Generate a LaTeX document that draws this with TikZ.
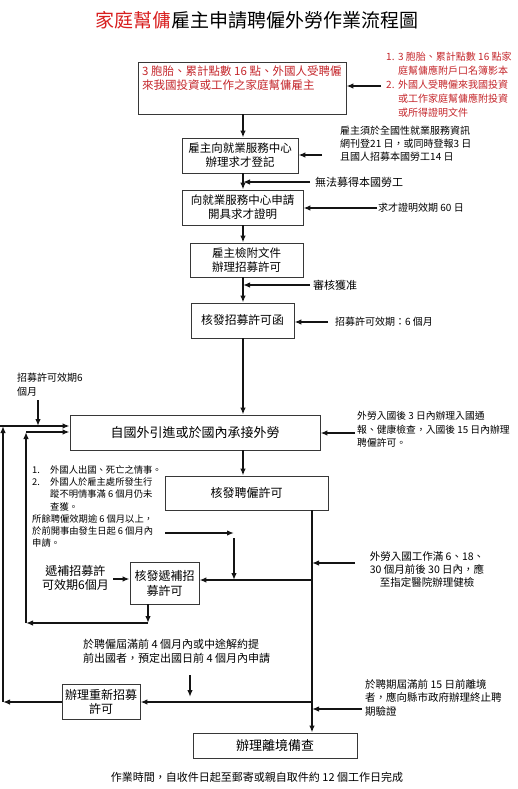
\documentclass[tikz,border=0pt]{standalone}
\usepackage{fontspec}
\setmainfont{Noto Sans CJK TC}
\usepackage{tikz}
\usetikzlibrary{positioning,arrows.meta,calc}
\definecolor{ink}  {HTML}{141414}
\definecolor{hred} {HTML}{D81E1E}
\definecolor{nred} {HTML}{C4262B}
\newcommand\fsz[2]{\fontsize{#1}{#2}\selectfont}
\tikzset{
  >={Latex[length=7pt,width=5.5pt]},
  % --- nodes
  box/.style  = {draw=ink!85, line width=0.9pt, align=center, inner sep=2pt,
                 font=\fsz{11.5}{14}},
  note/.style = {anchor=north west, align=left, inner sep=0pt, font=\fsz{10}{14}},
  lbl/.style  = {anchor=west, inner sep=0pt, font=\fsz{10}{12}},
  % --- edges
  e/.style    = {->, line width=1.4pt, draw=ink},
}
\newcommand\itm[2][12pt]{\makebox[#1][l]{#2}}

\begin{document}
\begin{tikzpicture}[x=1pt,y=-1pt]
  \useasboundingbox (0,0) rectangle (518,789);
  % title and footer
  \node[font=\fsz{19}{22}] (title) at (257,20) {{\color{hred}家庭幫傭}雇主申請聘僱外勞作業流程圖};
  \node[font=\fsz{11}{13}] (foot) at (257,777) {作業時間，自收件日起至郵寄或親自取件約 12 個工作日完成};

  % --- main column
  \node[box, minimum width=208, minimum height=52] (emp) at (242,88) {};
  \node[note, text=nred, font=\fsz{11.5}{14}] (empt) at (142,66)
    {3 胞胎、累計點數 16 點、外國人受聘僱\\來我國投資或工作之家庭幫傭雇主};
  \node[box, minimum width=116, minimum height=35] (reg)  at (240,155.5) {雇主向就業服務中心\\辦理求才登記};
  \node[box, minimum width=121, minimum height=35] (cert) at (242.5,207.5) {向就業服務中心申請\\開具求才證明};
  \node[box, minimum width=113, minimum height=34] (apply) at (246.5,260) {雇主檢附文件\\辦理招募許可};
  \node[box, minimum width=103, minimum height=35, font=\fsz{11.8}{14}] (permit) at (242.5,320.5) {核發招募許可函};
  \node[box, minimum width=250, minimum height=35, font=\fsz{13}{15}] (bring) at (195,432.5) {自國外引進或於國內承接外勞};
  \node[box, minimum width=163, minimum height=34, font=\fsz{12}{14}] (hire) at (246.5,493) {核發聘僱許可};
  \node[box, minimum width=69, minimum height=42, font=\fsz{12}{15}] (subst) at (164.5,583) {核發遞補招\\募許可};
  \node[box, minimum width=78, minimum height=35, font=\fsz{12}{14}] (renew) at (101,702) {辦理重新招募\\許可};
  \node[box, minimum width=164, minimum height=25, font=\fsz{13}{15}] (leave) at (275,745.5) {辦理離境備查};

  % --- side notes
  \node[note, text=nred] (docs) at (386,52)
    {\itm{1.}3 胞胎、累計點數 16 點家\\\itm{}庭幫傭應附戶口名簿影本\\\itm{2.}外國人受聘僱來我國投資\\\itm{}或工作家庭幫傭應附投資\\\itm{}或所得證明文件};
  \node[note, font=\fsz{10}{13}] (ad) at (340,125.5)
    {雇主須於全國性就業服務資訊\\網刊登21 日，或同時登報3 日\\且國人招募本國勞工14 日};
  \node[lbl, font=\fsz{11}{13}] (none) at (315,182) {無法募得本國勞工};
  \node[lbl] (valid1) at (378,208) {求才證明效期 60 日};
  \node[lbl, font=\fsz{11}{13}] (ok) at (313,285) {審核獲准};
  \node[lbl] (valid2) at (335,322) {招募許可效期：6 個月};
  \node[note, font=\fsz{9.8}{13.5}] (entry) at (357,411.5)
    {外勞入國後 3 日內辦理入國通\\報、健康檢查，入國後 15 日內辦理\\聘僱許可。};
  \node[note] (valid3) at (17,372.5) {招募許可效期6\\個月};
  \node[note, font=\fsz{9.3}{12.2}] (cases) at (32,465.5)
    {\itm[18pt]{1.}外國人出國、死亡之情事。\\\itm[18pt]{2.}外國人於雇主處所發生行\\\itm[18pt]{}蹤不明情事滿 6 個月仍未\\\itm[18pt]{}查獲。\\所餘聘僱效期逾 6 個月以上，\\於前開事由發生日起 6 個月內\\申請。};
  \node[anchor=east, align=center, inner sep=0pt, font=\fsz{12}{14}] (valid4) at (109,578) {遞補招募許\\可效期6個月};
  \node[anchor=north, align=center, inner sep=0pt, font=\fsz{10.5}{13}] (check) at (427,551.5)
    {外勞入國工作滿 6、18、\\30 個月前後 30 日內，應\\至指定醫院辦理健檢};
  \node[note, font=\fsz{11}{14}] (early) at (83,639)
    {於聘僱屆滿前 4 個月內或中途解約提\\前出國者，預定出國日前 4 個月內申請};
  \node[note, font=\fsz{10.5}{13.5}] (exit) at (365,679)
    {於聘期屆滿前 15 日前離境\\者，應向縣市政府辦理終止聘\\期驗證};

  % --- free ends and junctions
  \coordinate (cx) at (243,0);
  \coordinate (vt) at (312,510);
  \coordinate (v1) at (312,580);
  \coordinate (v2) at (312,702);
  \coordinate (a1) at (381,86);
  \coordinate (a2) at (322,155);
  \coordinate (a3) at (310,182);
  \coordinate (a4) at (377,208);
  \coordinate (a5) at (310,285);
  \coordinate (a6) at (328,322);
  \coordinate (a7) at (355,433);
  \coordinate (a8) at (355,563);
  \coordinate (a9) at (362,709);
  \coordinate (g1) at (38,400);
  \coordinate (o0) at (0,426);
  \coordinate (o1) at (3,702);
  \coordinate (o2) at (3,426);
  \coordinate (i1) at (148,623);
  \coordinate (i2) at (26,623);
  \coordinate (i3) at (26,432);
  \coordinate (p1) at (165,533);
  \coordinate (p2) at (234,533);
  \coordinate (p3) at (234,538);
  \coordinate (s1) at (113,579);
  \coordinate (q1) at (190,675);
  \coordinate (q2) at (190,697);

  % --- main flow
  \draw[e] (emp.south -| cx) -- (reg.north -| cx);
  \draw[e] (reg.south -| cx) -- (cert.north -| cx);
  \draw[e] (cert.south -| cx) -- (apply.north -| cx);
  \draw[e] (apply.south -| cx) -- (permit.north -| cx);
  \draw[e] (permit.south -| cx) -- (bring.north -| cx);
  \draw[e] (bring.south -| cx) -- (hire.north -| cx);
  \draw[e] (vt) -- (vt |- leave.north);
  \draw[e] (v1) -- (v1 -| subst.east);
  \draw[e] (v2) -- (renew.east);

  % --- side arrows
  \draw[e] (a1) -- (a1 -| emp.east);
  \draw[e] (a2) -- (a2 -| reg.east);
  \draw[e] (a3) -- (a3 -| cx);
  \draw[e] (a4) -- (a4 -| cert.east);
  \draw[e] (a5) -- (a5 -| cx);
  \draw[e] (a6) -- (a6 -| permit.east);
  \draw[e] (a7) -- (a7 -| bring.east);
  \draw[e] (a8) -- (a8 -| vt);
  \draw[e] (a9) -- (a9 -| vt);
  \draw[e] (g1) -- (g1 |- o2);
  \draw[e] (p1) -- (p2);
  \draw[e] (p3) -- (p3 |- v1);
  \draw[e] (s1) -- (s1 -| subst.west);
  \draw[e] (q1) -- (q2);

  % --- loops back to the hiring step
  \draw[e] (renew.west) -- (o1);
  \draw[e] (o1) -- (o2);
  \draw[e] (o0) -- (o0 -| bring.west);
  \draw[e] (subst.south -| i1) -- (i1);
  \draw[e] (i1) -- (i2);
  \draw[e] (i2) -- (i3);
  \draw[e] (i3) -- (i3 -| bring.west);
\end{tikzpicture}
\end{document}
